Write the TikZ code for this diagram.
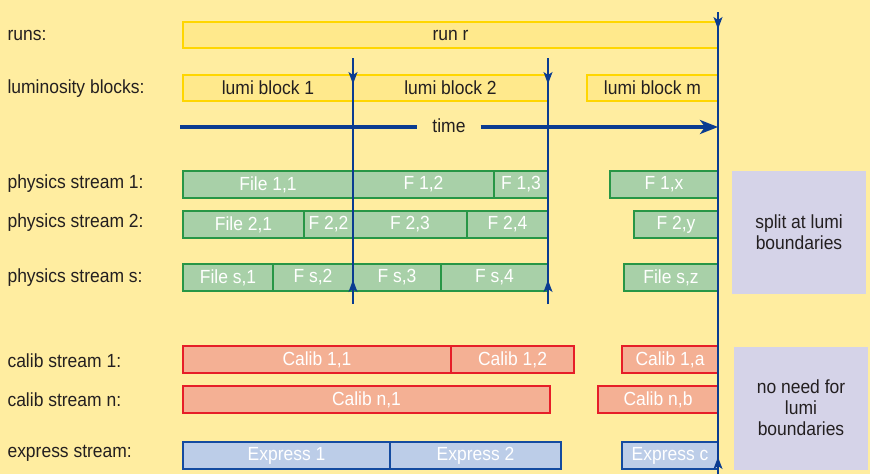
\documentclass[tikz,border=0pt]{standalone}
\usepackage{fontspec}
\setmainfont{Liberation Sans}[FakeStretch=0.92]
\usetikzlibrary{arrows.meta}
\definecolor{bgyellow}{RGB}{255,237,160}
\definecolor{runfill}{RGB}{255,233,140}
\definecolor{rundraw}{RGB}{255,214,0}
\definecolor{physfill}{RGB}{168,208,168}
\definecolor{physdraw}{RGB}{40,150,70}
\definecolor{calibfill}{RGB}{244,176,148}
\definecolor{calibdraw}{RGB}{230,30,40}
\definecolor{expfill}{RGB}{188,205,232}
\definecolor{expdraw}{RGB}{20,75,160}
\definecolor{notefill}{RGB}{213,211,232}
\definecolor{lineblue}{RGB}{10,60,145}
\definecolor{darktext}{RGB}{35,31,32}

\tikzset{
  rowlabel/.style={anchor=west,text=darktext},
  runbox/.style={fill=runfill,draw=rundraw,line width=1.5pt},
  physbox/.style={fill=physfill,draw=physdraw,line width=1.5pt},
  calibbox/.style={fill=calibfill,draw=calibdraw,line width=1.5pt},
  expbox/.style={fill=expfill,draw=expdraw,line width=1.5pt},
  notebox/.style={fill=notefill},
  boundary/.style={lineblue,line width=1.5pt},
  bdtip/.style={boundary,-{Stealth[length=12pt,width=9pt,inset=3pt]}},
  timeline/.style={lineblue,line width=4pt}
}

\begin{document}
\begin{tikzpicture}[x=1pt,y=-1pt,font=\fontsize{19}{21}\selectfont]
  \fill[bgyellow] (0,0) rectangle (870,474);

  % row labels
  \node[rowlabel] (lruns) at (4,35) {runs:};
  \node[rowlabel] (llumi) at (4,89) {luminosity blocks:};
  \node[rowlabel] (lphys1) at (4,184) {physics stream 1:};
  \node[rowlabel] (lphys2) at (4,223) {physics stream 2:};
  \node[rowlabel] (lphyss) at (4,278) {physics stream s:};
  \node[rowlabel] (lcal1) at (4,361) {calib stream 1:};
  \node[rowlabel] (lcaln) at (4,400) {calib stream n:};
  \node[rowlabel] (lexp) at (4,453) {express stream:};

  % run and lumi blocks
  \draw[runbox] (183,22) rectangle (718,48) node[midway,text=darktext] (runr) {run r};
  \draw[runbox] (183,75) rectangle (353,101) node[midway,text=darktext] (lb1) {lumi block 1};
  \draw[runbox] (353,75) rectangle (548,101) node[midway,text=darktext] (lb2) {lumi block 2};
  \draw[runbox] (587,75) rectangle (718,101) node[midway,text=darktext] (lbm) {lumi block m};

  % time axis
  \coordinate (tstart) at (180,127);
  \coordinate (tend) at (718,127);
  \node[text=darktext,inner xsep=15pt] (time) at (449,126) {time};
  \draw[timeline] (tstart) -- (time.west |- tstart);
  \draw[timeline,-{Stealth[length=18pt,width=14pt,inset=5pt]}] (time.east |- tend) -- (tend);

  % physics streams
  \begin{scope}[every node/.style={text=white}]
    \draw[physbox] (183,171) rectangle (353,198) node[midway] (f11) {File 1,1};
    \draw[physbox] (353,171) rectangle (494,198) node[midway] (f12) {F 1,2};
    \draw[physbox] (494,171) rectangle (548,198) node[midway] (f13) {F 1,3};
    \draw[physbox] (610,171) rectangle (718,198) node[midway] (f1x) {F 1,x};

    \draw[physbox] (183,211) rectangle (304,238) node[midway] (f21) {File 2,1};
    \draw[physbox] (304,211) rectangle (353,238) node[midway] (f22) {F 2,2};
    \draw[physbox] (353,211) rectangle (467,238) node[midway] (f23) {F 2,3};
    \draw[physbox] (467,211) rectangle (548,238) node[midway] (f24) {F 2,4};
    \draw[physbox] (634,211) rectangle (718,238) node[midway] (f2y) {F 2,y};

    \draw[physbox] (183,264) rectangle (273,291) node[midway] (fs1) {File s,1};
    \draw[physbox] (273,264) rectangle (353,291) node[midway] (fs2) {F s,2};
    \draw[physbox] (353,264) rectangle (441,291) node[midway] (fs3) {F s,3};
    \draw[physbox] (441,264) rectangle (548,291) node[midway] (fs4) {F s,4};
    \draw[physbox] (624,264) rectangle (718,291) node[midway] (fsz) {File s,z};

    % calibration streams
    \draw[calibbox] (183,346) rectangle (451,373) node[midway] (c11) {Calib 1,1};
    \draw[calibbox] (451,346) rectangle (574,373) node[midway] (c12) {Calib 1,2};
    \draw[calibbox] (622,346) rectangle (718,373) node[midway] (c1a) {Calib 1,a};

    \draw[calibbox] (183,386) rectangle (550,413) node[midway] (cn1) {Calib n,1};
    \draw[calibbox] (598,386) rectangle (718,413) node[midway] (cnb) {Calib n,b};

    % express stream
    \draw[expbox] (183,442) rectangle (390,469) node[midway] (e1) {Express 1};
    \draw[expbox] (390,442) rectangle (561,469) node[midway] (e2) {Express 2};
    \draw[expbox] (622,442) rectangle (718,469) node[midway] (ec) {Express c};
  \end{scope}

  % notes
  \fill[notebox] (732,171) rectangle (866,294);
  \node[text=darktext,align=center] (split) at (799,232) {split at lumi\\boundaries};
  \fill[notebox] (734,347) rectangle (868,470);
  \node[text=darktext,align=center] (noneed) at (801,408) {no need for\\lumi\\boundaries};

  % lumi boundaries
  \foreach \bx in {353,548} {
    \coordinate (btop) at (\bx,58);
    \coordinate (bbot) at (\bx,304);
    \draw[boundary] (btop) -- (bbot);
    \draw[bdtip] (btop) -- (\bx,84);
    \draw[bdtip] (bbot) -- (\bx,280);
  }
  % run boundary
  \coordinate (rtop) at (718,12);
  \coordinate (rbot) at (718,474);
  \draw[boundary] (rtop) -- (rbot);
  \draw[bdtip] (rtop) -- (718,29);
  \draw[bdtip] (rbot) -- (718,457);
\end{tikzpicture}
\end{document}
